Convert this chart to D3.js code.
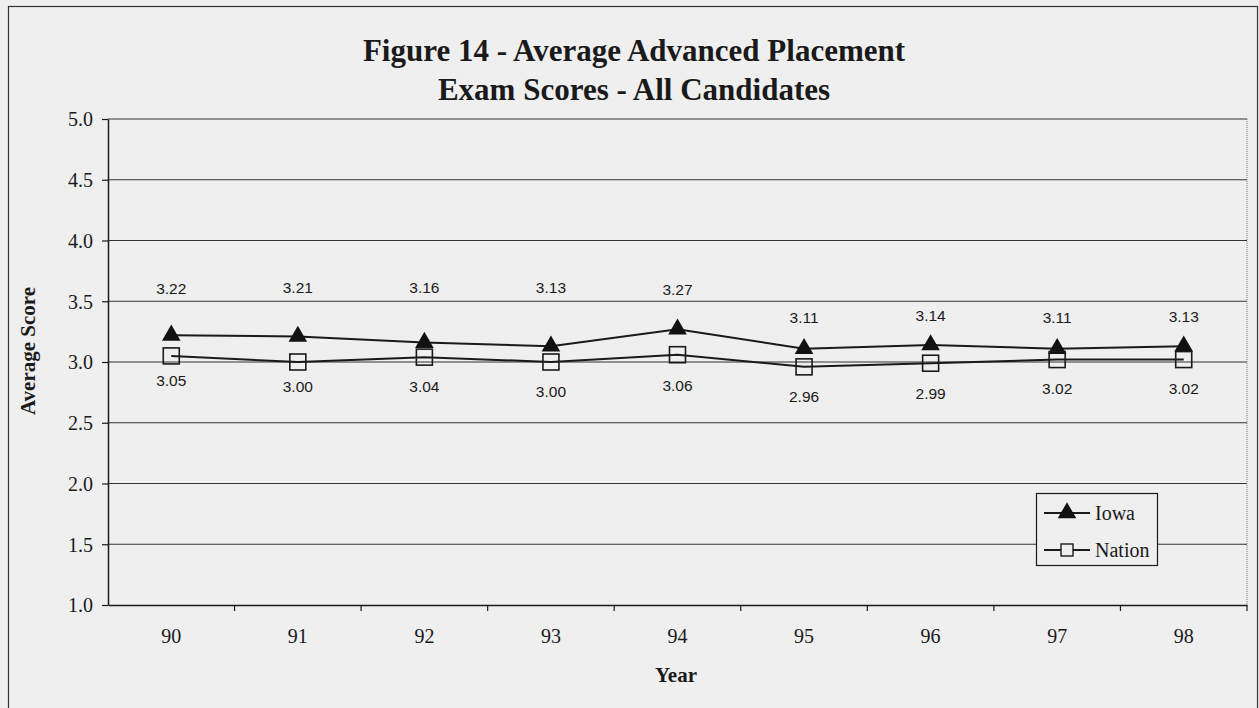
<!DOCTYPE html>
<html><head><meta charset="utf-8">
<script src="https://cdn.jsdelivr.net/npm/d3@7"></script>
<style>
html,body{margin:0;padding:0;background:#efefef;}
svg{display:block;}
</style></head>
<body>
<svg id="c" width="1259" height="708"></svg>
<script>
const years = ["90","91","92","93","94","95","96","97","98"];
const iowa = [3.22,3.21,3.16,3.13,3.27,3.11,3.14,3.11,3.13];
const nation = [3.05,3.00,3.04,3.00,3.06,2.96,2.99,3.02,3.02];
const yTicks = [1.0,1.5,2.0,2.5,3.0,3.5,4.0,4.5,5.0];
const titleLines = ["Figure 14 - Average Advanced Placement","Exam Scores - All Candidates"];
// label offsets (layout, px)
const iowaLabelDy = [-47,-49,-55,-59,-40,-31,-29,-31,-30];
const nationLabelDy = [25,25,29,30,31,30,30,29,29];

const svg = d3.select("#c");
const ink = "#1a1a1a";
const serif = "'Liberation Serif','Times New Roman',serif";
const sans = "'Liberation Sans',Arial,sans-serif";

// outer frame
svg.append("rect").attr("x",8.5).attr("y",6.5).attr("width",1249).attr("height",720)
  .attr("fill","none").attr("stroke","#333").attr("stroke-width",1.2);

const L=108, R=1247, T=119, B=605;
const x = d3.scaleBand().domain(years).range([L,R]);
const y = d3.scaleLinear().domain([1,5]).range([B,T]);

// title
svg.append("g").selectAll("text").data(titleLines).join("text")
  .attr("x",634).attr("y",(d,i)=>61+i*39).attr("text-anchor","middle")
  .attr("font-family",serif).attr("font-weight","bold").attr("font-size",31).attr("fill",ink)
  .text(d=>d);

// gridlines
svg.append("g").selectAll("line").data(yTicks.filter(v=>v>1)).join("line")
  .attr("x1",L).attr("x2",R).attr("y1",d=>y(d)).attr("y2",d=>y(d))
  .attr("stroke","#333").attr("stroke-width",1.2);

// right border dotted
svg.append("line").attr("x1",R).attr("x2",R).attr("y1",T).attr("y2",B)
  .attr("stroke","#777").attr("stroke-dasharray","1,1");

// y axis
const ya = svg.append("g").attr("transform",`translate(${L},0)`)
  .call(d3.axisLeft(y).tickValues(yTicks).tickFormat(d3.format(".1f")).tickSize(6).tickSizeOuter(0));
ya.select(".domain").attr("stroke",ink).attr("stroke-width",1.5);
ya.selectAll(".tick line").attr("stroke",ink).attr("stroke-width",1.2);
ya.selectAll(".tick text").attr("font-family",serif).attr("font-size",20).attr("fill",ink).attr("x",-15).attr("dy","0.34em");

// x axis
const xa = svg.append("g").attr("transform",`translate(0,${B})`)
  .call(d3.axisBottom(x).tickSize(0).tickSizeOuter(0));
xa.select(".domain").attr("stroke",ink).attr("stroke-width",1.5);
xa.selectAll(".tick text").attr("font-family",serif).attr("font-size",20).attr("fill",ink).attr("y",24).attr("dy","0.71em");
// category separator ticks
svg.append("g").selectAll("line").data(years.slice(1).concat(["end"])).join("line")
  .attr("x1",(d,i)=> i<years.length-1 ? x(d) : R).attr("x2",(d,i)=> i<years.length-1 ? x(d) : R)
  .attr("y1",B).attr("y2",B+6).attr("stroke",ink).attr("stroke-width",1.2);

// axis titles
svg.append("text").attr("transform","translate(35,351) rotate(-90)").attr("text-anchor","middle")
  .attr("font-family",serif).attr("font-weight","bold").attr("font-size",21).attr("fill",ink).text("Average Score");
svg.append("text").attr("x",676).attr("y",682).attr("text-anchor","middle")
  .attr("font-family",serif).attr("font-weight","bold").attr("font-size",21).attr("fill",ink).text("Year");

const cx = d => x(d)+x.bandwidth()/2;
const line = d3.line().x((d,i)=>cx(years[i])).y(d=>y(d));

svg.append("path").datum(nation).attr("d",line).attr("fill","none").attr("stroke",ink).attr("stroke-width",2);
svg.append("path").datum(iowa).attr("d",line).attr("fill","none").attr("stroke",ink).attr("stroke-width",2);

const tri = d3.symbol().type(d3.symbolTriangle).size(150);
svg.append("g").selectAll("path").data(iowa).join("path")
  .attr("d",tri).attr("transform",(d,i)=>`translate(${cx(years[i])},${y(d)})`).attr("fill","#111");
svg.append("g").selectAll("rect").data(nation).join("rect")
  .attr("x",(d,i)=>cx(years[i])-8).attr("y",d=>y(d)-8).attr("width",16).attr("height",16)
  .attr("fill","none").attr("stroke",ink).attr("stroke-width",1.6);

// labels
svg.append("g").selectAll("text").data(iowa).join("text")
  .attr("x",(d,i)=>cx(years[i])).attr("y",(d,i)=>y(d)+iowaLabelDy[i]).attr("dy","0.35em")
  .attr("text-anchor","middle").attr("font-family",sans).attr("font-size",15.5).attr("fill",ink)
  .text(d=>d.toFixed(2));
svg.append("g").selectAll("text").data(nation).join("text")
  .attr("x",(d,i)=>cx(years[i])).attr("y",(d,i)=>y(d)+nationLabelDy[i]).attr("dy","0.35em")
  .attr("text-anchor","middle").attr("font-family",sans).attr("font-size",15.5).attr("fill",ink)
  .text(d=>d.toFixed(2));

// legend
const lg = svg.append("g");
lg.append("rect").attr("x",1036.5).attr("y",493.5).attr("width",121).attr("height",72)
  .attr("fill","#efefef").attr("stroke",ink).attr("stroke-width",1.2);
const items = [{name:"Iowa",yy:513},{name:"Nation",yy:550}];
items.forEach((it,k)=>{
  lg.append("line").attr("x1",1044).attr("x2",1090).attr("y1",it.yy).attr("y2",it.yy).attr("stroke",ink).attr("stroke-width",2);
  if(k===0) lg.append("path").attr("d",tri).attr("transform",`translate(1067,${it.yy})`).attr("fill","#111");
  else lg.append("rect").attr("x",1061).attr("y",it.yy-6).attr("width",12).attr("height",12).attr("fill","#efefef").attr("stroke",ink).attr("stroke-width",1.4);
  lg.append("text").attr("x",1095).attr("y",it.yy).attr("dy","0.35em").attr("font-family",serif).attr("font-size",20).attr("fill",ink).text(it.name);
});
</script>
</body></html>
